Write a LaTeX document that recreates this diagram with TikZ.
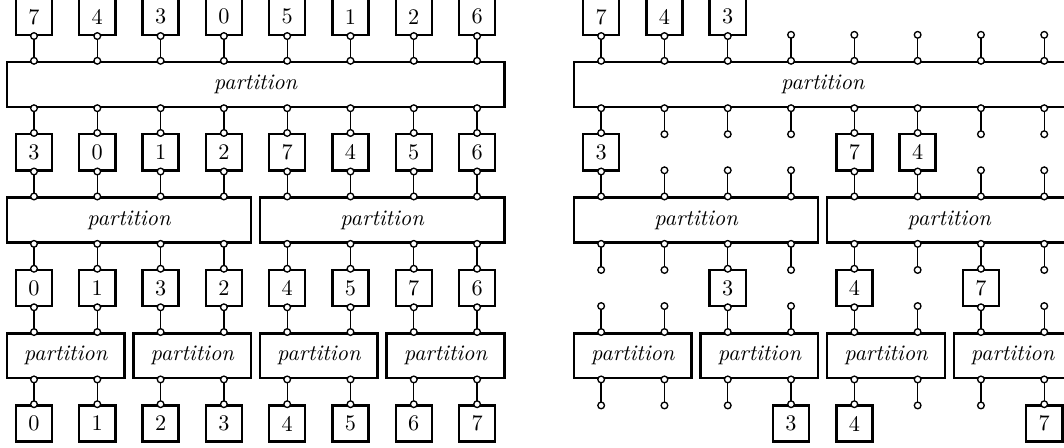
\documentclass[tikz,border=0pt]{standalone}
\usepackage{tikz}
\usetikzlibrary{arrows.meta}
\tikzset{num/.style={draw, line width=1.1pt, minimum size=0.57cm, inner sep=0pt},
  part/.style={draw, line width=1.1pt, minimum height=0.71cm, inner sep=0pt, font=\itshape},
  link/.style={line width=0.6pt, {Circle[length=3.6pt, fill=white]}-{Circle[length=3.6pt, fill=white]}, shorten <=-1.8pt, shorten >=-1.8pt}}

\begin{document}
\begin{tikzpicture}
\useasboundingbox (-0.537,0) rectangle (16.272,-7.077);
\clip (-0.537,0) rectangle (16.272,-7.077);
\foreach \v [count=\i from 0] in {7,4,3,0,5,1,2,6}
  \node[num] (La\i) at (\i,-0.265) {\v};
\node[part, minimum width=7.86cm] (Lp) at (3.5,-1.335) {partition};
\foreach \v [count=\i from 0] in {3,0,1,2,7,4,5,6}
  \node[num] (Lb\i) at (\i,-2.405) {\v};
\foreach \j in {0,1}
  \node[part, minimum width=3.86cm] (Lq\j) at (1.5+4*\j,-3.478) {partition};
\foreach \v [count=\i from 0] in {0,1,3,2,4,5,7,6}
  \node[num] (Lc\i) at (\i,-4.55) {\v};
\foreach \j in {0,...,3}
  \node[part, minimum width=1.86cm] (Lr\j) at (0.5+2*\j,-5.62) {partition};
\foreach \v [count=\i from 0] in {0,1,2,3,4,5,6,7}
  \node[num] (Ld\i) at (\i,-6.69) {\v};
\foreach \i in {0,...,7} {
  \draw[link] (La\i.south) -- (La\i.south |- Lp.north);
  \draw[link] (Lb\i.north |- Lp.south) -- (Lb\i.north);
}
\foreach \i [evaluate=\i as \q using int(\i/4), evaluate=\i as \r using int(\i/2)] in {0,...,7} {
  \draw[link] (Lb\i.south) -- (Lb\i.south |- Lq\q.north);
  \draw[link] (Lc\i.north |- Lq\q.south) -- (Lc\i.north);
  \draw[link] (Lc\i.south) -- (Lc\i.south |- Lr\r.north);
  \draw[link] (Ld\i.north |- Lr\r.south) -- (Ld\i.north);
}

\foreach \i/\v in {0/7,1/4,2/3}
  \node[num] (Ra\i) at (8.96+\i,-0.265) {\v};
\foreach \i in {3,...,7}
  \coordinate (Ra\i) at (8.96+\i,-0.55);
\node[part, minimum width=7.86cm] (Rp) at (12.46,-1.335) {partition};
\foreach \i/\v in {0/3,4/7,5/4}
  \node[num] (Rb\i) at (8.96+\i,-2.405) {\v};
\foreach \i in {1,2,3,6,7} {
  \coordinate (Rbn\i) at (8.96+\i,-2.12);
  \coordinate (Rbs\i) at (8.96+\i,-2.69);
}
\foreach \j in {0,1}
  \node[part, minimum width=3.86cm] (Rq\j) at (10.46+4*\j,-3.478) {partition};
\foreach \i/\v in {2/3,4/4,6/7}
  \node[num] (Rc\i) at (8.96+\i,-4.55) {\v};
\foreach \i in {0,1,3,5,7} {
  \coordinate (Rcn\i) at (8.96+\i,-4.265);
  \coordinate (Rcs\i) at (8.96+\i,-4.835);
}
\foreach \j in {0,...,3}
  \node[part, minimum width=1.86cm] (Rr\j) at (9.46+2*\j,-5.62) {partition};
\foreach \i/\v in {3/3,4/4,7/7}
  \node[num] (Rd\i) at (8.96+\i,-6.69) {\v};
\foreach \i in {0,1,2,5,6}
  \coordinate (Rdn\i) at (8.96+\i,-6.405);
\foreach \i in {0,1,2}
  \draw[link] (Ra\i.south) -- (Ra\i.south |- Rp.north);
\foreach \i in {3,...,7}
  \draw[link] (Ra\i) -- (Ra\i |- Rp.north);
\foreach \i [evaluate=\i as \q using int(\i/4)] in {0,4,5} {
  \draw[link] (Rb\i.north |- Rp.south) -- (Rb\i.north);
  \draw[link] (Rb\i.south) -- (Rb\i.south |- Rq\q.north);
}
\foreach \i [evaluate=\i as \q using int(\i/4)] in {1,2,3,6,7} {
  \draw[link] (Rbn\i |- Rp.south) -- (Rbn\i);
  \draw[link] (Rbs\i) -- (Rbs\i |- Rq\q.north);
}
\foreach \i [evaluate=\i as \q using int(\i/4), evaluate=\i as \r using int(\i/2)] in {2,4,6} {
  \draw[link] (Rc\i.north |- Rq\q.south) -- (Rc\i.north);
  \draw[link] (Rc\i.south) -- (Rc\i.south |- Rr\r.north);
}
\foreach \i [evaluate=\i as \q using int(\i/4), evaluate=\i as \r using int(\i/2)] in {0,1,3,5,7} {
  \draw[link] (Rcn\i |- Rq\q.south) -- (Rcn\i);
  \draw[link] (Rcs\i) -- (Rcs\i |- Rr\r.north);
}
\foreach \i [evaluate=\i as \r using int(\i/2)] in {3,4,7}
  \draw[link] (Rd\i.north |- Rr\r.south) -- (Rd\i.north);
\foreach \i [evaluate=\i as \r using int(\i/2)] in {0,1,2,5,6}
  \draw[link] (Rdn\i |- Rr\r.south) -- (Rdn\i);
\end{tikzpicture}
\end{document}
